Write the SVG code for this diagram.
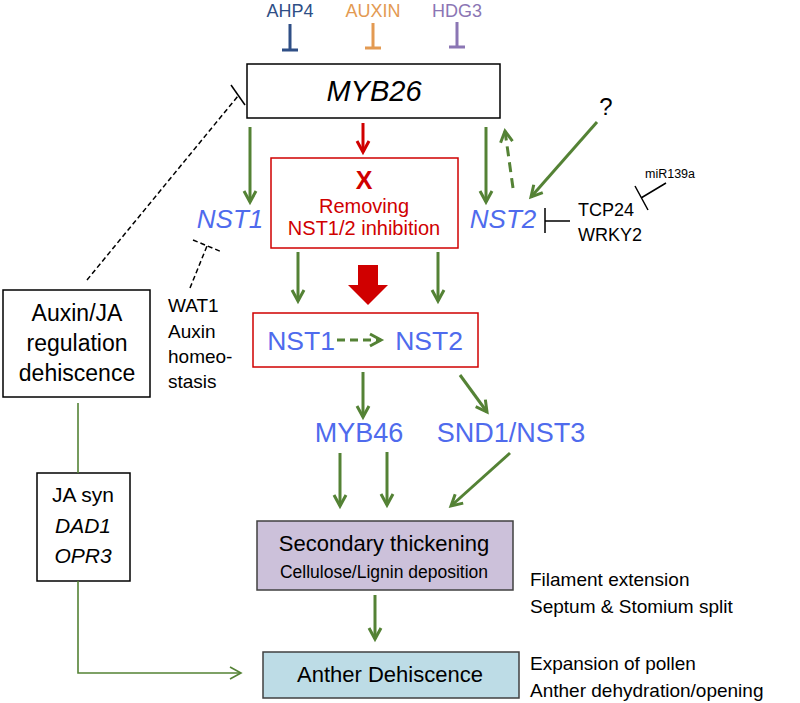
<svg xmlns="http://www.w3.org/2000/svg" width="800" height="703" viewBox="0 0 800 703">
<defs>
<style>
text{font-family:"Liberation Sans",Arial,sans-serif}
.g{stroke:#548235;stroke-width:3;fill:none}
.gt{stroke:#548235;stroke-width:1.6;fill:none}
.r{stroke:#D00000;stroke-width:3;fill:none}
.k{stroke:#000;stroke-width:1.5;fill:none}
.blue{fill:#4F6BED}
.box{fill:#fff;stroke:#000;stroke-width:1.5}
.rbox{fill:#fff;stroke:#D00000;stroke-width:1.5}
</style>
<marker id="ag" viewBox="-2 -2 16 16" refX="11" refY="6" markerWidth="16" markerHeight="16" markerUnits="userSpaceOnUse" orient="auto" overflow="visible">
<path d="M0,0 L11,6 L0,12" fill="none" stroke="#548235" stroke-width="3"/>
</marker>
<marker id="agt" viewBox="-2 -2 16 16" refX="11" refY="6" markerWidth="16" markerHeight="16" markerUnits="userSpaceOnUse" orient="auto" overflow="visible">
<path d="M0,0 L11,6 L0,12" fill="none" stroke="#548235" stroke-width="1.6"/>
</marker>
<marker id="ar" viewBox="-2 -2 16 16" refX="11" refY="6" markerWidth="16" markerHeight="16" markerUnits="userSpaceOnUse" orient="auto" overflow="visible">
<path d="M0,0 L11,6 L0,12" fill="none" stroke="#D00000" stroke-width="3"/>
</marker>
</defs>
<rect width="800" height="703" fill="#fff"/>

<g id="regulators">
<text x="290" y="17" font-size="18" text-anchor="middle" fill="#2F4F86">AHP4</text>
<text x="373" y="17" font-size="18" text-anchor="middle" fill="#E39A52">AUXIN</text>
<text x="457" y="17" font-size="18" text-anchor="middle" fill="#8B76B4">HDG3</text>
<path d="M290,24 V50 M282,50 H298" stroke="#2F4F86" stroke-width="3" fill="none"/>
<path d="M373,23 V48 M365,48 H381" stroke="#E39A52" stroke-width="3" fill="none"/>
<path d="M457,22 V47 M449,47 H465" stroke="#8B76B4" stroke-width="3" fill="none"/>
</g>

<g id="myb26">
<rect class="box" x="247" y="64" width="253" height="54"/>
<text x="374" y="101" font-size="29" font-style="italic" text-anchor="middle">MYB26</text>
</g>

<g id="nst1">
<text x="230" y="228" font-size="26" font-style="italic" text-anchor="middle" class="blue">NST1</text>
</g>
<g id="nst2">
<text x="503" y="228" font-size="26" font-style="italic" text-anchor="middle" class="blue">NST2</text>
</g>

<g id="removing">
<rect class="rbox" x="271" y="158" width="187" height="90"/>
<text x="364" y="189" font-size="25" font-weight="bold" text-anchor="middle" fill="#D00000">X</text>
<text x="364" y="213" font-size="20" text-anchor="middle" fill="#D00000">Removing</text>
<text x="364" y="235" font-size="20" text-anchor="middle" fill="#D00000">NST1/2 inhibition</text>
</g>

<g id="question"><text x="606" y="115" font-size="24" text-anchor="middle">?</text></g>

<g id="tcp">
<text x="578" y="216" font-size="18">TCP24</text>
<text x="578" y="241" font-size="18">WRKY2</text>
</g>
<g id="mir"><text x="645" y="178" font-size="12.5">miR139a</text></g>

<g id="wat1">
<text x="168" y="312" font-size="19">WAT1</text>
<text x="168" y="338" font-size="19">Auxin</text>
<text x="168" y="363" font-size="19">homeo-</text>
<text x="168" y="388" font-size="19">stasis</text>
</g>

<g id="auxinja">
<rect class="box" x="3" y="290" width="147" height="107"/>
<text x="77" y="321" font-size="23" text-anchor="middle">Auxin/JA</text>
<text x="77" y="351" font-size="23" text-anchor="middle">regulation</text>
<text x="77" y="381" font-size="23" text-anchor="middle">dehiscence</text>
</g>

<g id="nstbox">
<rect class="rbox" x="253" y="313" width="225" height="54"/>
<text x="301" y="350" font-size="26.5" text-anchor="middle" class="blue">NST1</text>
<text x="429" y="350" font-size="26.5" text-anchor="middle" class="blue">NST2</text>
</g>

<g id="myb46"><text x="359" y="442" font-size="27" text-anchor="middle" class="blue">MYB46</text></g>
<g id="snd1"><text x="511" y="442" font-size="27" text-anchor="middle" class="blue">SND1/NST3</text></g>

<g id="jasyn">
<rect class="box" x="37" y="473" width="93" height="108"/>
<text x="83" y="502" font-size="21" text-anchor="middle">JA syn</text>
<text x="83" y="533" font-size="21" font-style="italic" text-anchor="middle">DAD1</text>
<text x="83" y="563" font-size="21" font-style="italic" text-anchor="middle">OPR3</text>
</g>

<g id="secondary">
<rect x="257" y="521" width="256" height="69" fill="#CCC1DA" stroke="#404040" stroke-width="1.5"/>
<text x="384" y="551" font-size="22" text-anchor="middle">Secondary thickening</text>
<text x="384" y="578" font-size="17.5" text-anchor="middle">Cellulose/Lignin deposition</text>
</g>

<g id="anther">
<rect x="263" y="652" width="256" height="46" fill="#BDDCE6" stroke="#404040" stroke-width="1.5"/>
<text x="390" y="682" font-size="22" text-anchor="middle">Anther Dehiscence</text>
</g>

<g id="notes">
<text x="530" y="586" font-size="19">Filament extension</text>
<text x="530" y="613" font-size="19">Septum &amp; Stomium split</text>
<text x="530" y="670" font-size="19">Expansion of pollen</text>
<text x="530" y="697" font-size="19">Anther dehydration/opening</text>
</g>

<g id="connectors">
<line class="g" x1="250" y1="127" x2="250" y2="202" marker-end="url(#ag)"/>
<line class="r" x1="363" y1="123" x2="363" y2="152" marker-end="url(#ar)"/>
<line class="g" x1="486" y1="127" x2="486" y2="202" marker-end="url(#ag)"/>
<line class="g" x1="513" y1="188" x2="505" y2="131" stroke-dasharray="10,6" marker-end="url(#ag)"/>
<line class="g" x1="597" y1="122" x2="531" y2="197" marker-end="url(#ag)"/>
<path class="k" d="M570,221 H545 M545,208 V233"/>
<path class="k" d="M666,183 L641,198 M635,186 L648,210"/>
<path d="M87,280 L238,96" stroke="#000" stroke-width="1.5" stroke-dasharray="5,3" fill="none"/>
<path d="M231,85 L245,105" stroke="#000" stroke-width="1.5" fill="none"/>
<path d="M190,288 L207,246 M193,240 L222,252" stroke="#000" stroke-width="1.5" stroke-dasharray="5,3" fill="none"/>
<line class="g" x1="298" y1="252" x2="298" y2="301" marker-end="url(#ag)"/>
<line class="g" x1="438" y1="252" x2="438" y2="301" marker-end="url(#ag)"/>
<polygon points="358,265 378,265 378,285 388,285 368,305 348,285 358,285" fill="#D00000"/>
<line class="g" x1="337" y1="340" x2="381" y2="340" stroke-dasharray="8,5" marker-end="url(#ag)"/>
<line class="g" x1="363" y1="372" x2="363" y2="417" marker-end="url(#ag)"/>
<line class="g" x1="460" y1="375" x2="487" y2="412" marker-end="url(#ag)"/>
<line class="g" x1="340" y1="453" x2="340" y2="506" marker-end="url(#ag)"/>
<line class="g" x1="387" y1="452" x2="387" y2="505" marker-end="url(#ag)"/>
<line class="g" x1="510" y1="453" x2="451" y2="506" marker-end="url(#ag)"/>
<line class="g" x1="375" y1="595" x2="375" y2="639" marker-end="url(#ag)"/>
<line class="gt" x1="78" y1="403" x2="78" y2="473"/>
<path class="gt" d="M78,581 V673 H241" marker-end="url(#agt)"/>
</g>
</svg>
